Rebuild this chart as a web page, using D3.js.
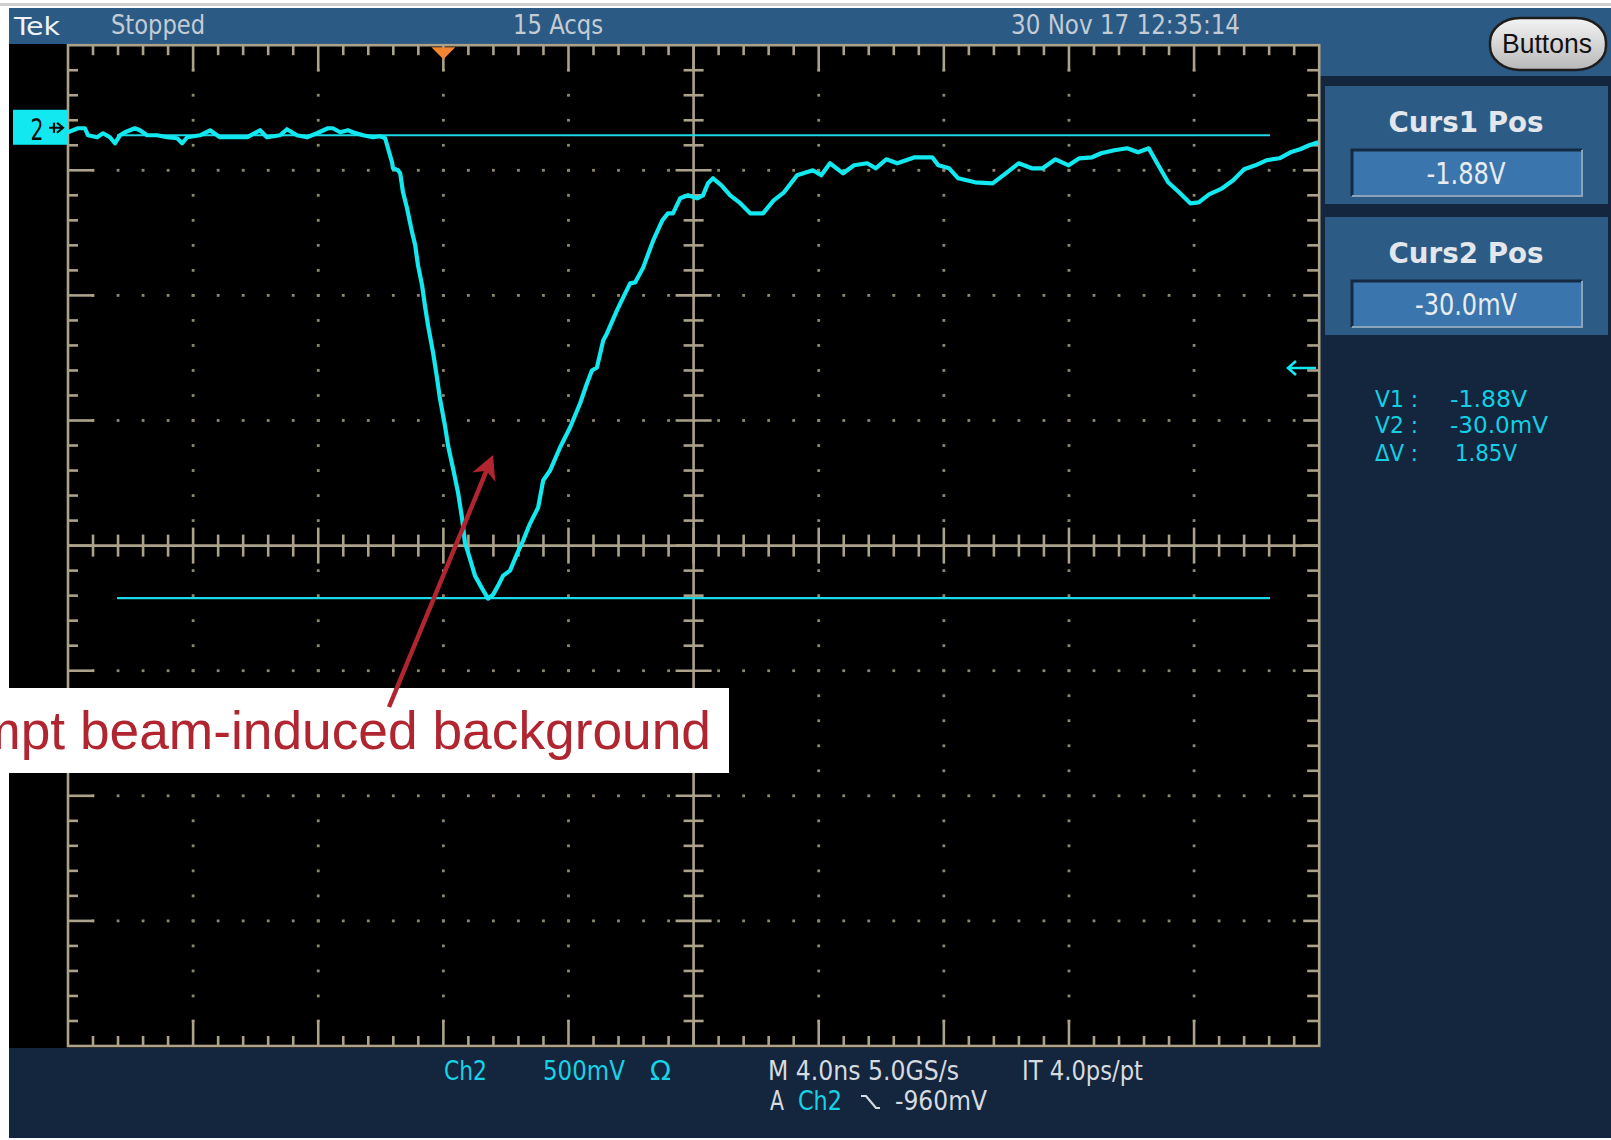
<!DOCTYPE html>
<html>
<head>
<meta charset="utf-8">
<script src="https://cdn.jsdelivr.net/npm/d3@7"></script>
<style>
  body { margin: 0; background: #ffffff; }
  svg { display: block; }
</style>
</head>
<body>
<svg id="scope" width="1611" height="1140"></svg>
<script>
// ---- Channel 2 record: time (ns, relative to trigger) and amplitude (mV) ----
const traceTimeNs = [
  -12.00, -11.68, -11.46, -11.36, -11.07, -10.88, -10.66, -10.50, -10.34, -10.18,
  -9.86, -9.70, -9.47, -9.15, -8.83, -8.51, -8.35, -8.19, -7.78, -7.46,
  -7.14, -6.72, -6.28, -5.86, -5.64, -5.22, -5.00, -4.68, -4.36, -4.04,
  -3.69, -3.53, -3.30, -3.05, -2.89, -2.57, -2.25, -2.02, -1.86,
  -1.77, -1.64, -1.61, -1.45, -1.38, -1.29, -1.16, -1.00, -0.90, -0.81,
  -0.68, -0.59, -0.49, -0.33, -0.20, -0.11, 0.05, 0.15, 0.31, 0.47,
  0.60, 0.69, 0.85, 1.01, 1.24, 1.43, 1.59, 1.75, 1.91, 2.13,
  2.36, 2.55, 2.77, 3.03, 3.19, 3.41, 3.73, 4.05, 4.37, 4.59,
  4.75, 4.91, 5.11, 5.23, 5.55, 5.75, 5.97, 6.13, 6.39, 6.71,
  7.00, 7.18, 7.34, 7.57, 7.82, 8.11, 8.30, 8.46, 8.62,
  8.89, 9.17, 9.46, 9.81, 10.22, 10.56, 10.89, 11.31, 11.81, 12.08,
  12.36, 12.78, 13.13, 13.55, 13.82, 14.16, 14.51, 15.07, 15.63, 15.82,
  16.17, 16.46, 17.00, 17.56, 17.98, 18.39, 18.81, 19.16, 19.57, 19.99,
  20.33, 20.74, 21.03, 21.45, 21.86, 22.21, 22.55, 22.82, 23.17, 23.52,
  23.88, 24.15, 24.48, 24.90, 25.25, 25.60, 25.96, 26.31, 26.73, 27.08,
  27.39, 27.68, 27.97
];
const traceMilliVolts = [
  -18, -2, -2, -30, -38, -22, -38, -62, -30, -18,
  -2, -10, -30, -30, -38, -42, -62, -38, -30, -10,
  -38, -38, -38, -10, -38, -30, -6, -30, -38, -22,
  -2, -2, -18, -10, -18, -30, -38, -34, -42,
  -82, -138, -162, -170, -182, -258, -322, -418, -470, -550,
  -630, -710, -790, -898, -1002, -1082, -1190, -1270, -1362, -1458,
  -1562, -1658, -1722, -1790, -1842, -1882, -1866, -1830, -1790, -1770,
  -1702, -1650, -1582, -1518, -1410, -1370, -1278, -1198, -1102, -1022,
  -970, -958, -850, -822, -730, -678, -622, -618, -558, -450,
  -370, -342, -342, -282, -270, -282, -270, -222, -202,
  -230, -270, -298, -342, -342, -290, -258, -190, -170, -190,
  -142, -182, -150, -142, -162, -126, -142, -118, -118, -150,
  -162, -202, -218, -222, -182, -142, -162, -162, -126, -150,
  -122, -118, -102, -90, -82, -98, -82, -142, -218, -258,
  -302, -298, -266, -242, -210, -166, -150, -130, -122, -98,
  -86, -70, -58
];

// ---- Instrument settings ----
const nsPerDiv = 4.0;          // M 4.0ns
const mvPerDiv = 500;          // Ch2 500mV
const timeStartNs = -12;       // trigger sits 3 divisions from the left edge
const groundDivs = 3.34;       // Ch2 ground marker position above screen centre
const cursorMilliVolts = [-1880, -30];   // Curs1, Curs2
const triggerLevelMv = -960;

// ---- Text content ----
const headerLabels = ["Tek", "Stopped", "15 Acqs", "30 Nov 17 12:35:14"];
const cursorTitles = ["Curs1 Pos", "Curs2 Pos"];
const cursorValues = ["-1.88V", "-30.0mV"];
const readoutKeys = ["V1 :", "V2 :", "\u0394V :"];
const readoutValues = ["-1.88V", "-30.0mV", "1.85V"];
const annotationText = "prompt beam-induced background";

// ---- Layout ----
const plot = { left: 68, right: 1319.2, top: 45.2, bottom: 1046 };
const svg = d3.select("#scope");
const pixelFont = "'DejaVu Sans Condensed', 'Liberation Sans Narrow', 'DejaVu Sans', sans-serif";

const centerMv = -groundDivs * mvPerDiv;
const x = d3.scaleLinear()
  .domain([timeStartNs, timeStartNs + 10 * nsPerDiv])
  .range([plot.left, plot.right]);
const y = d3.scaleLinear()
  .domain([centerMv - 4 * mvPerDiv, centerMv + 4 * mvPerDiv])
  .range([plot.bottom, plot.top]);

function label(px, py, s, o = {}) {
  const t = svg.append("text")
    .attr("x", px).attr("y", py)
    .attr("font-family", o.family || pixelFont)
    .attr("font-size", o.size || 26)
    .attr("font-weight", o.weight || "normal")
    .attr("fill", o.fill || "#cfd6dd")
    .attr("text-anchor", o.anchor || "start")
    .text(s);
  if (o.width) t.attr("textLength", o.width).attr("lengthAdjust", "spacingAndGlyphs");
  return t;
}

// ---- Screen background ----
svg.append("rect").attr("x", 0).attr("y", 0).attr("width", 1611).attr("height", 1140).attr("fill", "#ffffff");
svg.append("rect").attr("x", 0).attr("y", 3).attr("width", 1611).attr("height", 3).attr("fill", "#cfcfcf");
svg.append("rect").attr("x", 9).attr("y", 8).attr("width", 1602).attr("height", 1130).attr("fill", "#13263d");
svg.append("rect").attr("x", 9).attr("y", 8).attr("width", 1602).attr("height", 36).attr("fill", "#2b5a84");
svg.append("rect").attr("x", 1320).attr("y", 44).attr("width", 291).attr("height", 32).attr("fill", "#2b5a84");
svg.append("rect").attr("x", 9).attr("y", 44).attr("width", 1311).attr("height", 1004).attr("fill", "#000000");

// ---- Header text ----
label(14, 35, headerLabels[0], { size: 25, fill: "#eef2f5", width: 46 });
label(111, 34, headerLabels[1], { size: 27, fill: "#c3ccd5", width: 94 });
label(513, 34, headerLabels[2], { size: 27, fill: "#c3ccd5", width: 90 });
label(1011, 34, headerLabels[3], { size: 27, fill: "#c3ccd5", width: 229 });

// "Buttons" softkey
const btnGrad = svg.append("defs").append("linearGradient")
  .attr("id", "btnGrad").attr("x1", 0).attr("y1", 0).attr("x2", 0).attr("y2", 1);
btnGrad.append("stop").attr("offset", 0).attr("stop-color", "#f4f4f4");
btnGrad.append("stop").attr("offset", 0.5).attr("stop-color", "#d6d6d6");
btnGrad.append("stop").attr("offset", 1).attr("stop-color", "#b8b8b8");
svg.append("rect").attr("x", 1490).attr("y", 18).attr("width", 116).attr("height", 52)
  .attr("rx", 30).attr("ry", 24).attr("fill", "url(#btnGrad)")
  .attr("stroke", "#1d1d1d").attr("stroke-width", 2.5);
label(1547, 53, "Buttons", { size: 27, fill: "#111111", anchor: "middle", family: "'Liberation Sans', Arial, sans-serif", width: 90 });

// ---- Graticule ----
const gridColor = "#aba289";
const dotColor = "#8e876f";
const g = svg.append("g");
const majorT = d3.range(0, 11).map(i => timeStartNs + i * nsPerDiv);
const minorT = d3.range(0, 51).map(i => timeStartNs + i * nsPerDiv / 5);
const majorV = d3.range(0, 9).map(i => y.domain()[0] + i * mvPerDiv);
const minorV = d3.range(0, 41).map(i => y.domain()[0] + i * mvPerDiv / 5);
const centerT = majorT[5];

// dotted division lines
const dots = [];
majorT.forEach((t, i) => {
  if (i === 0 || i === 10 || i === 5) return;
  minorV.forEach((v, j) => { if (j > 0 && j < 40) dots.push([x(t), y(v)]); });
});
majorV.forEach((v, i) => {
  if (i === 0 || i === 8 || i === 4) return;
  minorT.forEach((t, j) => { if (j > 0 && j < 50) dots.push([x(t), y(v)]); });
});
g.selectAll("rect.dot").data(dots).join("rect").attr("class", "dot")
  .attr("x", d => d[0] - 1.4).attr("y", d => d[1] - 1.4)
  .attr("width", 2.8).attr("height", 2.8).attr("fill", dotColor);

// frame and centre axes
g.append("rect").attr("x", plot.left).attr("y", plot.top)
  .attr("width", plot.right - plot.left).attr("height", plot.bottom - plot.top)
  .attr("fill", "none").attr("stroke", gridColor).attr("stroke-width", 2.6);
g.append("line").attr("x1", x(centerT)).attr("x2", x(centerT)).attr("y1", plot.top).attr("y2", plot.bottom)
  .attr("stroke", gridColor).attr("stroke-width", 2.6);
g.append("line").attr("x1", plot.left).attr("x2", plot.right).attr("y1", y(centerMv)).attr("y2", y(centerMv))
  .attr("stroke", gridColor).attr("stroke-width", 2.6);

const ticks = [];
minorV.forEach((v, j) => {
  if (j === 0 || j === 40) return;
  const major = j % 5 === 0;
  const yy = y(v);
  ticks.push([plot.left, yy, plot.left + (major ? 26 : 10), yy]);
  ticks.push([plot.right - (major ? 16 : 12), yy, plot.right, yy]);
  const h = major ? 18 : 10;
  ticks.push([x(centerT) - h, yy, x(centerT) + h, yy]);
});
minorT.forEach((t, j) => {
  if (j === 0 || j === 50) return;
  const major = j % 5 === 0;
  const xx = x(t);
  ticks.push([xx, plot.top, xx, plot.top + (major ? 26 : 10)]);
  ticks.push([xx, plot.bottom - (major ? 26 : 10), xx, plot.bottom]);
  const h = major ? 18 : 11;
  ticks.push([xx, y(centerMv) - h, xx, y(centerMv) + h]);
});
g.selectAll("line.tick").data(ticks).join("line").attr("class", "tick")
  .attr("x1", d => d[0]).attr("y1", d => d[1]).attr("x2", d => d[2]).attr("y2", d => d[3])
  .attr("stroke", gridColor).attr("stroke-width", 2.6);

// trigger position marker
svg.append("path")
  .attr("d", `M${x(0) - 12},${plot.top + 2} L${x(0) + 12},${plot.top + 2} L${x(0)},${plot.top + 14} Z`)
  .attr("fill", "#f08532");

// ---- Cursors ----
const cyan = "#12e8f0";
svg.selectAll("line.cursor").data(cursorMilliVolts).join("line").attr("class", "cursor")
  .attr("x1", 117).attr("x2", 1270)
  .attr("y1", d => y(d)).attr("y2", d => y(d))
  .attr("stroke", "#1bd9e6").attr("stroke-width", 2.2);

// ---- Waveform ----
const samples = traceTimeNs.map((t, i) => ({ t, v: traceMilliVolts[i] }));
svg.append("path").datum(samples)
  .attr("d", d3.line().x(d => x(d.t)).y(d => y(d.v)))
  .attr("fill", "none").attr("stroke", cyan).attr("stroke-width", 4.2)
  .attr("stroke-linejoin", "round");

// ---- Ch2 ground marker ----
const gy = y(0);
svg.append("rect").attr("x", 13).attr("y", gy - 18).attr("width", 55).attr("height", 35).attr("fill", cyan);
label(37, gy + 12, "2", { size: 30, fill: "#0a0a0a", anchor: "middle", width: 13 });
svg.append("path").attr("d", `M49,${gy} L63,${gy} M57,${gy - 5} L63,${gy} L57,${gy + 5} M54,${gy - 5} L54,${gy + 5}`)
  .attr("stroke", "#0a0a0a").attr("stroke-width", 2.2).attr("fill", "none");

// trigger level indicator on the right edge
const ty = y(triggerLevelMv);
svg.append("path").attr("d", `M1288,${ty} L1316,${ty} M1296,${ty - 7} L1288,${ty} L1296,${ty + 7}`)
  .attr("stroke", cyan).attr("stroke-width", 2.6).attr("fill", "none");

// ---- Right-hand cursor menu ----
[86, 217].forEach((top, i) => {
  svg.append("rect").attr("x", 1325).attr("y", top).attr("width", 283).attr("height", 118).attr("fill", "#2c5b86");
  label(1466, top + 46, cursorTitles[i], { size: 29, weight: "bold", fill: "#e3e7eb", anchor: "middle", width: 155, family: "'DejaVu Sans', sans-serif" });
  const fy = top + 63;
  svg.append("rect").attr("x", 1351).attr("y", fy).attr("width", 232).attr("height", 48).attr("fill", "#3a76ad");
  svg.append("path").attr("d", `M1352,${fy + 47} L1352,${fy + 1} L1582,${fy + 1}`)
    .attr("stroke", "#142a42").attr("stroke-width", 3).attr("fill", "none");
  svg.append("path").attr("d", `M1352,${fy + 47} L1582,${fy + 47} L1582,${fy + 1}`)
    .attr("stroke", "#8aa2ba").attr("stroke-width", 2).attr("fill", "none");
  label(1466, fy + 35, cursorValues[i], { size: 30, fill: "#e8ecef", anchor: "middle", width: i === 0 ? 79 : 102 });
});

const readoutColor = "#14cfe2";
const readoutWidths = [77, 98, 62];
readoutKeys.forEach((k, i) => {
  const by = [407, 433, 461][i];
  label(1375, by, k, { size: 23, fill: readoutColor, width: 43 });
  label(i === 2 ? 1455 : 1450, by, readoutValues[i], { size: 23, fill: readoutColor, width: readoutWidths[i] });
});

// ---- Bottom status bar ----
const statCyan = "#18d2e6";
const statGrey = "#d6dbe0";
label(444, 1080, "Ch2", { size: 27, fill: statCyan, width: 43 });
label(543, 1080, "500mV", { size: 27, fill: statCyan, width: 82 });
label(650, 1080, "\u03A9", { size: 27, fill: statCyan, width: 21 });
label(768, 1080, "M 4.0ns 5.0GS/s", { size: 27, fill: statGrey, width: 191 });
label(1022, 1080, "IT 4.0ps/pt", { size: 27, fill: statGrey, width: 121 });
label(770, 1110, "A", { size: 27, fill: statGrey, width: 14 });
label(798, 1110, "Ch2", { size: 27, fill: statCyan, width: 44 });
svg.append("path").attr("d", "M861,1096 L866,1096 L876,1108 L880,1108")
  .attr("stroke", statGrey).attr("stroke-width", 2.2).attr("fill", "none");
label(895, 1110, "-960mV", { size: 27, fill: statGrey, width: 92 });

// ---- Annotation ----
const red = "#b0252f";
svg.append("rect").attr("x", 0).attr("y", 688).attr("width", 729).attr("height", 85).attr("fill", "#ffffff");
label(711, 749, annotationText, { size: 53.3, fill: red, anchor: "end", family: "'Liberation Sans', Arial, Helvetica, sans-serif" });

const tail = [389, 707], tip = [493, 455];
const len = Math.hypot(tip[0] - tail[0], tip[1] - tail[1]);
const ux = (tip[0] - tail[0]) / len, uy = (tip[1] - tail[1]) / len;
const nx = -uy, ny = ux;
const back = 24, notch = 17, half = 12.5;
const wingA = [tip[0] - back * ux + half * nx, tip[1] - back * uy + half * ny];
const wingB = [tip[0] - back * ux - half * nx, tip[1] - back * uy - half * ny];
const notchP = [tip[0] - notch * ux, tip[1] - notch * uy];
svg.append("line").attr("x1", tail[0]).attr("y1", tail[1]).attr("x2", notchP[0]).attr("y2", notchP[1])
  .attr("stroke", red).attr("stroke-width", 4.5);
svg.append("path").attr("d", `M${tip} L${wingA} L${notchP} L${wingB} Z`).attr("fill", red);
</script>
</body>
</html>
